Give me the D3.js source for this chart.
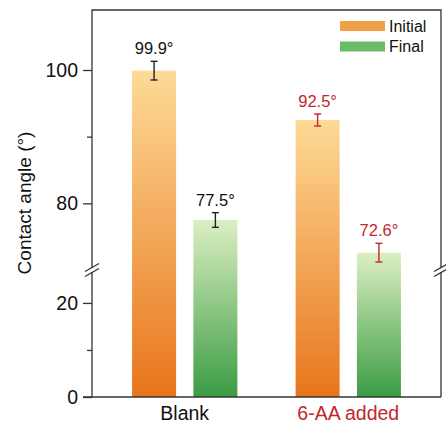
<!DOCTYPE html>
<html>
<head>
<meta charset="utf-8">
<script src="https://cdn.jsdelivr.net/npm/d3@7"></script>
<style>
  html, body { margin: 0; padding: 0; background: #fff; }
  svg { display: block; font-family: "Liberation Sans", Arial, sans-serif; }
</style>
</head>
<body>
<svg id="chart" width="446" height="429"></svg>
<script>
// Contact angle before/after, with and without 6-AA
const groups = ["Blank", "6-AA added"];
const seriesNames = ["Initial", "Final"];
const initialValues = [99.9, 92.5];
const finalValues = [77.5, 72.6];
const initialErrors = [1.4, 0.9];
const finalErrors = [1.1, 1.4];
const lowerTicks = [0, 20];
const lowerMinorTicks = [10];
const upperTicks = [80, 100];
const upperMinorTicks = [90];

const plotLeft = 92, plotRight = 441, plotTop = 10, plotBottom = 397, breakY = 270;
const dark = "#333";
const red = "#c1272d";

const svg = d3.select("#chart");

// Broken y axis: lower segment 0–27, upper segment 70–109
const yLow = d3.scaleLinear().domain([0, 27]).range([plotBottom, breakY]);
const yHigh = d3.scaleLinear().domain([70, 109]).range([breakY, plotTop]);
const y = v => v <= 27 ? yLow(v) : yHigh(v);

const x0 = d3.scaleBand().domain(groups).range([plotLeft, plotRight]).paddingInner(0.356).paddingOuter(0.245);
const x1 = d3.scaleBand().domain(seriesNames).range([0, x0.bandwidth()]).paddingInner(0.282).paddingOuter(0);

// Gradients
const defs = svg.append("defs");
function grad(id, topColor, bottomColor) {
  const g = defs.append("linearGradient").attr("id", id).attr("x1", 0).attr("y1", 0).attr("x2", 0).attr("y2", 1);
  g.append("stop").attr("offset", "0%").attr("stop-color", topColor);
  g.append("stop").attr("offset", "100%").attr("stop-color", bottomColor);
}
grad("gInitial", "#fdda96", "#e8751c");
grad("gFinal", "#dcefc2", "#3b9c44");
const fills = { Initial: "url(#gInitial)", Final: "url(#gFinal)" };
const labelColors = [ "#111", red ];

const rows = [];
groups.forEach((g, i) => {
  rows.push({ group: g, gi: i, series: "Initial", value: initialValues[i], err: initialErrors[i] });
  rows.push({ group: g, gi: i, series: "Final", value: finalValues[i], err: finalErrors[i] });
});

// Bars
svg.append("g").selectAll("rect").data(rows).join("rect")
  .attr("x", d => x0(d.group) + x1(d.series))
  .attr("width", x1.bandwidth())
  .attr("y", d => y(d.value))
  .attr("height", d => y(0) - y(d.value))
  .attr("fill", d => fills[d.series]);

// Error bars
const eb = svg.append("g").selectAll("g").data(rows).join("g")
  .attr("stroke", d => d.gi === 1 ? red : "#222")
  .attr("stroke-width", 1.4);
const cx = d => x0(d.group) + x1(d.series) + x1.bandwidth() / 2;
eb.append("line").attr("x1", cx).attr("x2", cx).attr("y1", d => y(d.value + d.err)).attr("y2", d => y(d.value - d.err));
eb.append("line").attr("x1", d => cx(d) - 3.5).attr("x2", d => cx(d) + 3.5).attr("y1", d => y(d.value + d.err)).attr("y2", d => y(d.value + d.err));
eb.append("line").attr("x1", d => cx(d) - 3.5).attr("x2", d => cx(d) + 3.5).attr("y1", d => y(d.value - d.err)).attr("y2", d => y(d.value - d.err));

// Value labels
svg.append("g").selectAll("text").data(rows).join("text")
  .attr("x", cx)
  .attr("y", d => y(d.value + d.err) - 7)
  .attr("text-anchor", "middle")
  .attr("font-size", 16.5)
  .attr("fill", d => labelColors[d.gi])
  .text(d => d.value.toFixed(1) + "°");

// Frame
const frame = svg.append("g").attr("stroke", dark).attr("stroke-width", 1.3).attr("fill", "none");
frame.append("path").attr("d", `M${plotLeft},${plotBottom}V${plotTop}H${plotRight}V${plotBottom}`);
frame.append("line").attr("x1", plotLeft - 9).attr("x2", plotRight).attr("y1", plotBottom).attr("y2", plotBottom);

// Y axes (two segments)
function drawAxis(scale, ticks, minor) {
  const g = svg.append("g").attr("transform", `translate(${plotLeft},0)`);
  g.call(d3.axisLeft(scale).tickValues(ticks).tickSize(9).tickPadding(5).tickFormat(d3.format("d")));
  g.select(".domain").remove();
  g.selectAll(".tick line").attr("stroke", dark).attr("stroke-width", 1.3);
  g.selectAll(".tick text").attr("font-size", 19.5).attr("fill", "#111").attr("font-family", "Liberation Sans, Arial, sans-serif");
  const m = svg.append("g").attr("transform", `translate(${plotLeft},0)`);
  m.call(d3.axisLeft(scale).tickValues(minor).tickSize(5).tickFormat(""));
  m.select(".domain").remove();
  m.selectAll(".tick line").attr("stroke", dark).attr("stroke-width", 1.3);
}
drawAxis(yLow, lowerTicks, lowerMinorTicks);
drawAxis(yHigh, upperTicks, upperMinorTicks);

// Axis break marks on both vertical edges
[plotLeft, plotRight].forEach(xb => {
  const b = svg.append("g");
  b.append("polygon")
    .attr("points", `${xb - 7},${breakY + 6} ${xb + 7},${breakY - 2} ${xb + 7},${breakY - 6} ${xb - 7},${breakY + 2}`)
    .attr("fill", "#fff");
  b.append("line").attr("x1", xb - 7).attr("y1", breakY + 1.5).attr("x2", xb + 7).attr("y2", breakY - 6.5)
    .attr("stroke", dark).attr("stroke-width", 1.3);
  b.append("line").attr("x1", xb - 7).attr("y1", breakY + 6.5).attr("x2", xb + 7).attr("y2", breakY - 1.5)
    .attr("stroke", dark).attr("stroke-width", 1.3);
});

// X category labels
svg.append("g").selectAll("text").data(groups).join("text")
  .attr("x", d => x0(d) + x0.bandwidth() / 2)
  .attr("y", 420)
  .attr("text-anchor", "middle")
  .attr("font-size", 19.5)
  .attr("fill", (d, i) => labelColors[i])
  .text(d => d);

// Y title
svg.append("text")
  .attr("transform", `translate(31,203) rotate(-90)`)
  .attr("text-anchor", "middle")
  .attr("font-size", 19)
  .attr("fill", "#111")
  .text("Contact angle (°)");

// Legend
const legendColors = { Initial: "#f1a048", Final: "#69bd67" };
const lg = svg.append("g").selectAll("g").data(seriesNames).join("g")
  .attr("transform", (d, i) => `translate(340,${21 + i * 20.5})`);
lg.append("rect").attr("width", 45).attr("height", 10).attr("fill", d => legendColors[d]);
lg.append("text").attr("x", 49).attr("y", 10.5).attr("font-size", 16).attr("fill", "#111").text(d => d);
</script>
</body>
</html>
